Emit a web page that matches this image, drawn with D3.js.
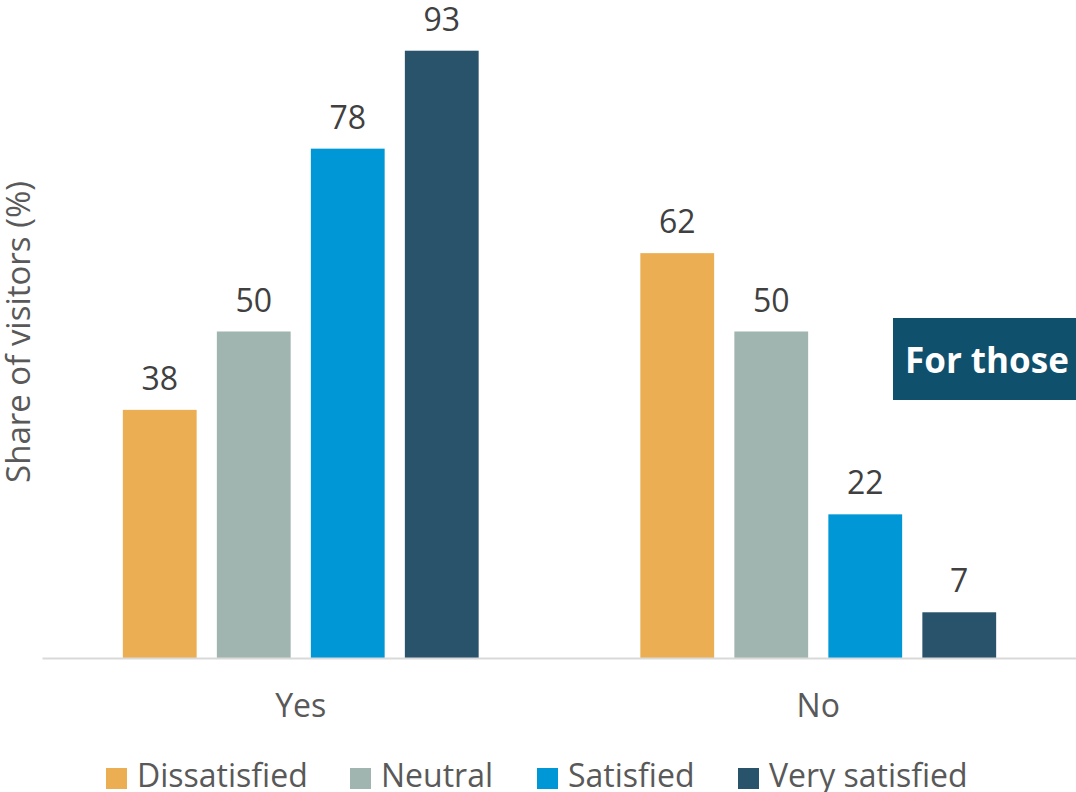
<!DOCTYPE html>
<html>
<head>
<meta charset="utf-8">
<script src="https://cdn.jsdelivr.net/npm/d3@7"></script>
<style>
  html, body { margin: 0; padding: 0; background: #ffffff; }
  svg { display: block; font-family: "Open Sans", "Noto Sans", sans-serif; }
</style>
</head>
<body>
<svg id="chart" width="1076" height="792"></svg>
<script>
// Share of visitors by answer and satisfaction level
const categories = ["Yes", "No"];
const seriesNames = ["Dissatisfied", "Neutral", "Satisfied", "Very satisfied"];
const dissatisfied = [38, 62];
const neutral = [50, 50];
const satisfied = [78, 22];
const verySatisfied = [93, 7];
const seriesColors = ["#ECAE52", "#A0B5AF", "#0097D6", "#29526B"];
const yAxisTitle = "Share of visitors (%)";
const calloutText = "For those";

const seriesValues = [dissatisfied, neutral, satisfied, verySatisfied];
const rows = categories.map((c, i) => ({
  category: c,
  values: seriesNames.map((s, j) => ({ series: s, value: seriesValues[j][i], color: seriesColors[j] }))
}));

const svg = d3.select("#chart");
const textColor = "#595959";

const x0 = d3.scaleBand().domain(categories).range([42, 1077]).padding(0);
const x1 = d3.scaleBand().domain(seriesNames).range([0, x0.bandwidth()])
  .paddingInner(0.215).paddingOuter(0.86);
const y = d3.scaleLinear().domain([0, 100]).range([658, 5]);

// bars
const groups = svg.append("g").selectAll("g").data(rows).join("g")
  .attr("transform", d => `translate(${x0(d.category)},0)`);

groups.selectAll("rect").data(d => d.values).join("rect")
  .attr("x", d => x1(d.series))
  .attr("y", d => y(d.value))
  .attr("width", x1.bandwidth())
  .attr("height", d => y(0) - y(d.value))
  .attr("fill", d => d.color);

// value labels
groups.selectAll("text").data(d => d.values).join("text")
  .attr("x", d => x1(d.series) + x1.bandwidth() / 2)
  .attr("y", d => y(d.value) - 20)
  .attr("text-anchor", "middle")
  .attr("font-size", 32)
  .attr("fill", "#404040")
  .text(d => d.value);

// category axis
const xAxis = svg.append("g").attr("transform", `translate(0,${y(0)})`)
  .call(d3.axisBottom(x0).tickSize(0).tickPadding(0));
xAxis.select(".domain").attr("stroke", "#d9d9d9").attr("stroke-width", 2);
xAxis.selectAll(".tick text")
  .attr("dy", 0).attr("y", 59)
  .attr("font-size", 32)
  .attr("font-family", "\"Open Sans\", sans-serif")
  .attr("fill", textColor);

// y axis title
svg.append("text")
  .attr("transform", "translate(30,332) rotate(-90)")
  .attr("text-anchor", "middle")
  .attr("font-size", 33)
  .attr("fill", textColor)
  .text(yAxisTitle);

// legend
const legendX = [106, 350, 537, 738];
const legend = svg.append("g").selectAll("g").data(seriesNames).join("g")
  .attr("transform", (d, i) => `translate(${legendX[i]},768)`);
legend.append("rect").attr("width", 21).attr("height", 21)
  .attr("fill", (d, i) => seriesColors[i]);
legend.append("text").attr("x", 31).attr("y", 19)
  .attr("font-size", 32).attr("fill", textColor)
  .text(d => d);

// callout box
const callout = svg.append("g");
callout.append("rect").attr("x", 893).attr("y", 318).attr("width", 190).attr("height", 82)
  .attr("fill", "#0F506D");
callout.append("text").attr("x", 905).attr("y", 373)
  .attr("font-size", 35).attr("font-weight", "bold").attr("fill", "#ffffff")
  .text(calloutText);
</script>
</body>
</html>
